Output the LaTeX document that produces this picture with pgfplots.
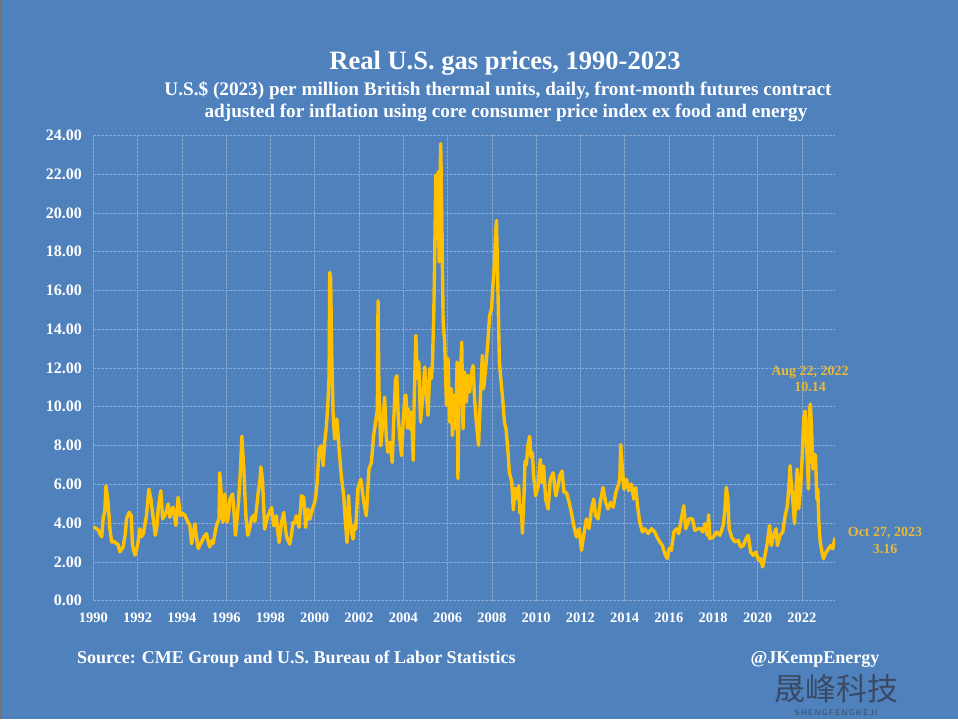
\documentclass[border=0pt]{standalone}
\usepackage{fontspec}
\setmainfont{Liberation Serif}
\newfontfamily\cjk{Noto Sans CJK SC}
\usepackage{pgfplots}
\pgfplotsset{compat=1.18}
\definecolor{bg}{RGB}{79,129,189}
\definecolor{gold}{RGB}{255,192,0}
\definecolor{gridc}{RGB}{138,167,207}
\definecolor{anno}{RGB}{232,186,52}
\definecolor{wm}{RGB}{58,74,100}
\begin{document}
\begin{tikzpicture}
\fill[bg] (0pt,0pt) rectangle (958pt,719pt);
\fill[black!55] (0pt,0pt) rectangle (1.2pt,719pt);
\begin{axis}[at={(93.3pt,118.3pt)}, anchor=south west, scale only axis,
  width=741.7pt, height=465.4pt,
  xmin=1990, xmax=2023.5, ymin=0, ymax=24,
  xtick={1990,1992,...,2022}, ytick={0,2,...,24},
  grid=major,
  major grid style={gridc, line width=0.6pt, dash pattern=on 2.5pt off 1.5pt},
  axis line style={draw=none}, major tick length=0pt, tick style={draw=none},
  /pgf/number format/assume math mode=true,
  /pgf/number format/1000 sep={},
  ticklabel style={white},
  xticklabel style={font=\bfseries\fontsize{14.5}{14.5}\selectfont, yshift=-9pt},
  yticklabel style={font=\bfseries\fontsize{16}{16}\selectfont, xshift=-8pt,
    /pgf/number format/fixed, /pgf/number format/fixed zerofill, /pgf/number format/precision=2},
]
\addplot[gold, line width=3.4pt, line join=round] coordinates {
(1990.00,3.80) (1990.10,3.75) (1990.23,3.63) (1990.30,3.45) (1990.38,3.29) (1990.45,4.30) (1990.52,4.6) (1990.57,5.92) (1990.62,5.5) (1990.68,4.90) (1990.75,3.70) (1990.83,3.03) (1990.95,3.05) (1991.05,2.94) (1991.12,2.9) (1991.20,2.52) (1991.35,2.77) (1991.45,3.5) (1991.50,4.22) (1991.62,4.56) (1991.71,4.39) (1991.77,2.86) (1991.88,2.35) (1991.95,2.60) (1992.02,3.0) (1992.10,3.71) (1992.18,3.3) (1992.26,3.46) (1992.33,3.9) (1992.40,4.39) (1992.51,5.75) (1992.60,5.24) (1992.71,4.22) (1992.80,3.37) (1992.87,3.8) (1992.93,4.73) (1993.05,5.67) (1993.13,4.22) (1993.23,4.39) (1993.30,4.6) (1993.38,4.99) (1993.46,4.30) (1993.53,4.7) (1993.60,4.82) (1993.66,4.4) (1993.73,3.88) (1993.83,5.33) (1993.94,4.39) (1994.05,4.5) (1994.14,4.39) (1994.25,4.1) (1994.36,3.88) (1994.44,2.94) (1994.52,3.5) (1994.59,3.97) (1994.67,3.2) (1994.74,2.69) (1994.82,2.9) (1994.89,3.03) (1995.00,3.3) (1995.11,3.46) (1995.20,3.0) (1995.26,2.77) (1995.35,3.1) (1995.41,2.94) (1995.50,3.5) (1995.56,3.88) (1995.68,4.22) (1995.71,6.6) (1995.76,5.8) (1995.80,5.24) (1995.86,4.05) (1995.94,5.50) (1996.05,4.05) (1996.12,4.6) (1996.17,5.24) (1996.29,5.50) (1996.36,4.5) (1996.42,3.37) (1996.50,4.3) (1996.56,5.07) (1996.64,6.60) (1996.71,8.48) (1996.76,7.5) (1996.80,6.77) (1996.85,5.4) (1996.90,4.22) (1996.98,3.37) (1997.06,3.7) (1997.14,4.22) (1997.22,4.38) (1997.30,4.1) (1997.37,4.72) (1997.45,5.6) (1997.52,6.1) (1997.57,6.9) (1997.64,6.27) (1997.74,3.69)
(1997.80,4.0) (1997.89,4.38) (1997.97,4.6) (1998.05,4.81) (1998.15,3.86) (1998.22,4.1) (1998.27,4.38) (1998.33,3.6) (1998.39,3.0) (1998.45,3.5) (1998.50,4.04) (1998.60,4.55) (1998.66,3.9) (1998.72,3.35) (1998.80,3.1) (1998.87,2.92) (1998.95,3.4) (1999.02,4.04) (1999.10,4.0) (1999.17,4.38) (1999.29,3.78) (1999.35,4.6) (1999.40,5.41) (1999.50,5.33) (1999.55,4.6) (1999.59,3.78) (1999.65,4.3) (1999.70,4.72) (1999.78,4.2) (1999.85,4.55) (1999.92,4.8) (2000.00,5.07) (2000.05,5.4) (2000.11,6.10) (2000.20,7.82) (2000.30,7.99) (2000.38,6.96) (2000.45,8.17) (2000.53,9.02) (2000.60,10.23) (2000.65,11.60) (2000.68,16.93) (2000.72,16.60) (2000.77,12.63) (2000.83,9.71) (2000.90,8.34) (2001.00,9.37) (2001.10,7.82) (2001.20,6.44) (2001.31,5.41) (2001.36,4.5) (2001.40,3.86) (2001.46,3.00) (2001.53,5.41) (2001.57,4.5) (2001.61,4.04) (2001.67,3.5) (2001.73,3.18) (2001.79,3.9) (2001.85,3.69) (2001.95,5.76) (2002.08,6.27) (2002.18,5.41) (2002.26,4.8) (2002.33,4.38) (2002.40,5.8) (2002.45,6.79) (2002.56,7.13) (2002.66,8.51) (2002.75,9.20) (2002.83,9.88) (2002.86,15.47) (2002.90,11.0) (2002.93,9.88) (2002.98,7.99) (2003.08,9.20) (2003.16,10.49) (2003.23,8.51) (2003.31,7.65) (2003.41,8.17) (2003.50,7.13) (2003.56,9.02) (2003.65,11.43) (2003.71,11.60) (2003.77,9.54) (2003.85,8.34) (2003.92,7.48) (2004.00,9.30)
(2004.08,10.57) (2004.12,10.6) (2004.19,8.9) (2004.22,9.9) (2004.30,8.87) (2004.37,9.73) (2004.45,7.23) (2004.49,10.24) (2004.57,13.68) (2004.63,11.45) (2004.70,12.31) (2004.78,9.21) (2004.87,10.41) (2004.97,12.05) (2005.05,10.59) (2005.12,9.56) (2005.20,11.96) (2005.27,11.45) (2005.32,12.31) (2005.38,14.89) (2005.42,17.81) (2005.47,21.94) (2005.53,18.67) (2005.57,22.11) (2005.62,17.47) (2005.65,20.90) (2005.69,23.57) (2005.74,20.04) (2005.77,17.12) (2005.80,14.37) (2005.87,13.34) (2005.95,10.07) (2006.02,12.48) (2006.10,9.21) (2006.17,10.93) (2006.22,8.52) (2006.29,10.59) (2006.37,8.87) (2006.43,12.31) (2006.47,6.29) (2006.52,10.59) (2006.59,11.79) (2006.64,13.34) (2006.70,8.87) (2006.77,11.79) (2006.85,10.24) (2006.92,11.62) (2007.00,10.76) (2007.07,11.62) (2007.15,12.13) (2007.22,10.41) (2007.30,9.21) (2007.40,8.01) (2007.48,10.41) (2007.57,12.65) (2007.63,10.93) (2007.72,11.96) (2007.82,13.34) (2007.90,14.71) (2007.99,15.06) (2008.04,16.09) (2008.12,17.47) (2008.16,18.67) (2008.21,19.61) (2008.25,17.47) (2008.28,15.75) (2008.34,12.31) (2008.42,11.27) (2008.49,10.41) (2008.57,9.21) (2008.64,8.87) (2008.72,7.84) (2008.79,6.63) (2008.90,6.12) (2008.97,4.68) (2009.05,5.8) (2009.14,5.26) (2009.21,5.94) (2009.27,4.52) (2009.33,4.9) (2009.38,3.48) (2009.45,5.36) (2009.50,7.2) (2009.56,7.0) (2009.63,8.0) (2009.71,8.48) (2009.77,7.4) (2009.83,7.63) (2009.89,6.43) (2009.98,5.41)
(2010.09,5.92) (2010.19,7.29) (2010.25,6.09) (2010.34,6.94) (2010.43,5.24) (2010.54,4.73) (2010.64,6.26) (2010.77,6.60) (2010.89,5.41) (2010.99,5.92) (2011.07,6.43) (2011.17,6.69) (2011.26,5.58) (2011.37,5.58) (2011.49,5.07) (2011.59,4.56) (2011.70,3.88) (2011.82,3.29) (2011.94,3.71) (2012.05,2.60) (2012.15,3.37) (2012.27,4.22) (2012.39,3.71) (2012.50,4.73) (2012.60,5.24) (2012.69,4.39) (2012.80,4.22) (2012.90,5.07) (2013.02,5.84) (2013.14,5.07) (2013.25,4.73) (2013.36,5.07) (2013.48,4.82) (2013.60,5.58) (2013.70,5.92) (2013.78,6.26) (2013.82,8.05) (2013.90,6.77) (2013.97,5.75) (2014.08,6.26) (2014.18,5.67) (2014.30,6.01) (2014.41,5.24) (2014.50,5.84) (2014.58,4.90) (2014.68,4.05) (2014.80,3.54) (2014.91,3.71) (2015.06,3.46) (2015.21,3.71) (2015.36,3.54) (2015.46,3.29) (2015.58,3.03) (2015.70,2.86) (2015.81,2.43) (2015.92,2.18) (2016.01,2.69) (2016.11,2.60) (2016.22,3.54) (2016.34,3.71) (2016.44,3.46) (2016.56,4.22) (2016.67,4.90) (2016.76,3.71) (2016.91,4.22) (2017.06,4.22) (2017.17,3.63) (2017.32,3.71)
(2017.45,3.7) (2017.52,3.54) (2017.62,3.97) (2017.73,3.37) (2017.79,4.43) (2017.85,3.20) (2018.00,3.28) (2018.15,3.54) (2018.30,3.37) (2018.45,3.88) (2018.53,4.74) (2018.59,5.85) (2018.66,5.25) (2018.72,3.71) (2018.83,3.28) (2018.98,3.03) (2019.13,3.11) (2019.24,2.77) (2019.36,2.85) (2019.48,3.20) (2019.58,3.37) (2019.69,2.51) (2019.81,2.34) (2019.93,2.51) (2020.04,2.09) (2020.14,2.17) (2020.23,1.74) (2020.34,2.34) (2020.45,3.03) (2020.54,3.88) (2020.63,2.85) (2020.72,3.37) (2020.84,3.71) (2020.90,2.85) (2021.02,3.37) (2021.14,3.54) (2021.25,4.39) (2021.35,4.91) (2021.43,6.10) (2021.47,6.96) (2021.53,5.93) (2021.59,5.25) (2021.67,3.97) (2021.74,5.76) (2021.79,6.79) (2021.86,4.74) (2021.95,5.93) (2022.02,7.47) (2022.08,9.35) (2022.15,9.78) (2022.20,8.32) (2022.26,6.96) (2022.30,5.76) (2022.35,9.86) (2022.39,10.14) (2022.44,8.84) (2022.50,6.79) (2022.56,7.56) (2022.62,7.47) (2022.68,5.25) (2022.72,5.76) (2022.77,4.05) (2022.83,3.03) (2022.91,2.51) (2022.98,2.17) (2023.10,2.51) (2023.21,2.68) (2023.31,2.85) (2023.40,2.68) (2023.46,3.03) (2023.50,3.25)
};
\end{axis}
\node[white, font=\bfseries\fontsize{26.5}{26.5}\selectfont] at (505pt,656pt) {Real U.S. gas prices, 1990-2023};
\node[white, font=\bfseries\fontsize{19.2}{19.2}\selectfont] at (498pt,628pt) {U.S.\$ (2023) per million British thermal units, daily, front-month futures contract};
\node[white, font=\bfseries\fontsize{19.2}{19.2}\selectfont] at (506pt,606pt) {adjusted for inflation using core consumer price index ex food and energy};
\node[white, font=\bfseries\fontsize{18}{18}\selectfont, anchor=west, inner sep=0pt] at (77pt,60pt) {Source: CME Group and U.S. Bureau of Labor Statistics};
\node[white, font=\bfseries\fontsize{18}{18}\selectfont] at (815pt,60pt) {@JKempEnergy};
\node[anno, font=\bfseries\fontsize{14}{14}\selectfont] at (810pt,347pt) {Aug 22, 2022};
\node[anno, font=\bfseries\fontsize{14}{14}\selectfont] at (810pt,332pt) {10.14};
\node[anno, font=\bfseries\fontsize{14}{14}\selectfont] at (885pt,186pt) {Oct 27, 2023};
\node[anno, font=\bfseries\fontsize{14}{14}\selectfont] at (885pt,170pt) {3.16};
\node[wm, font=\cjk\fontsize{31}{31}\selectfont] at (836pt,30pt) {晟峰科技};
\node[wm, font=\sffamily\fontsize{8}{8}\selectfont] at (836pt,6pt) {S\,H\,E\,N\,G\,F\,E\,N\,G\,K\,E\,J\,I};
\end{tikzpicture}
\end{document}
